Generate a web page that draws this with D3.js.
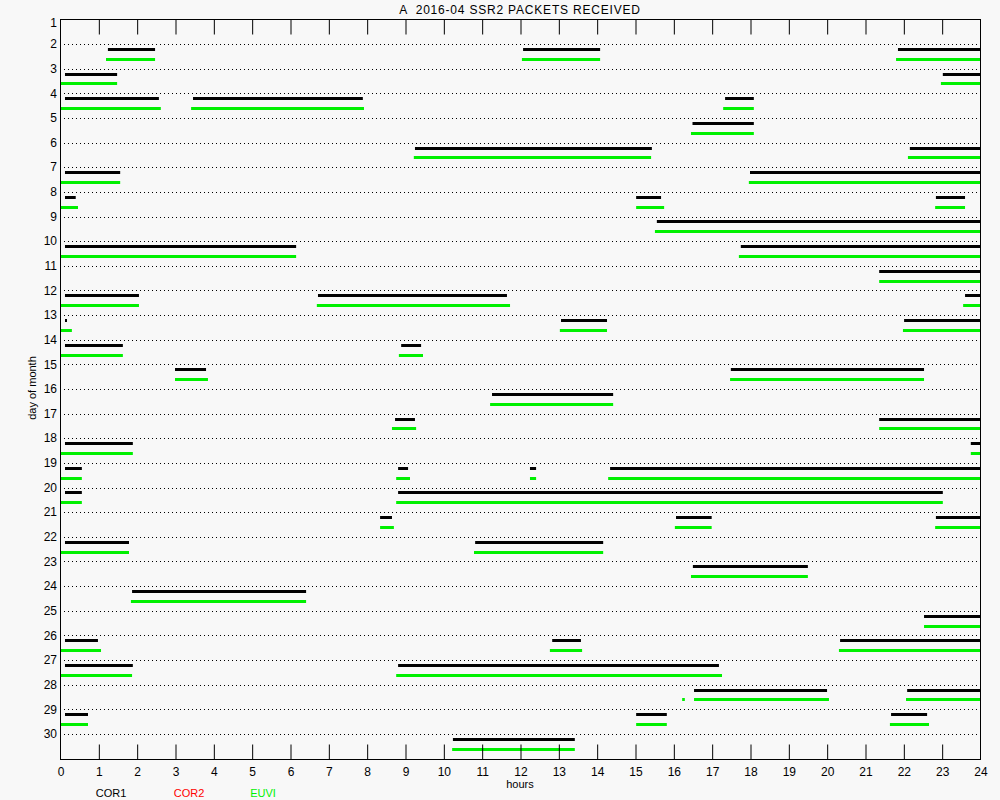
<!DOCTYPE html>
<html>
<head>
<meta charset="utf-8">
<script src="https://cdn.jsdelivr.net/npm/d3@7"></script>
<style>
  html, body { margin: 0; padding: 0; background: #f8f8f8; }
  svg { display: block; }
  text { font-family: "Liberation Sans", Arial, sans-serif; }
</style>
</head>
<body>
<svg id="chart" width="1000" height="800"></svg>
<script>
// ---- data ----
const title = "A  2016-04 SSR2 PACKETS RECEIVED";
const days = d3.range(1, 31);
const hourTicks = d3.range(0, 25);
const legendLabels = ["COR1", "COR2", "EUVI"];
const legendColors = ["#000000", "#ff0000", "#00f000"];

// [day, startHour, endHour]
const cor1Segs = [
  [2,1.25,2.48],[2,12.08,14.09],[2,21.86,24],
  [3,0.13,1.49],[3,23.03,24],
  [4,0.13,2.58],[4,3.47,7.9],[4,17.35,18.1],
  [5,16.5,18.1],
  [6,9.26,15.44],[6,22.17,24],
  [7,0.13,1.57],[7,18.0,24],
  [8,0.13,0.41],[8,15.03,15.68],[8,22.85,23.61],
  [9,15.57,24],
  [10,0.13,6.16],[10,17.76,24],
  [11,21.37,24],
  [12,0.13,2.06],[12,6.73,11.66],[12,23.61,24],
  [13,0.13,0.18],[13,13.07,14.27],[13,22.02,24],
  [14,0.13,1.64],[14,8.9,9.42],
  [15,3.0,3.81],[15,17.5,22.54],
  [16,11.27,14.43],
  [17,8.74,9.26],[17,21.37,24],
  [18,0.13,1.9],[18,23.76,24],
  [19,0.13,0.57],[19,8.82,9.08],[19,12.26,12.42],[19,14.35,24],
  [20,0.13,0.57],[20,8.82,23.03],
  [21,8.35,8.66],[21,16.07,17.0],[21,22.85,24],
  [22,0.13,1.8],[22,10.83,14.17],
  [23,16.51,19.51],
  [24,1.88,6.42],
  [25,22.54,24],
  [26,0.13,0.99],[26,12.84,13.59],[26,20.35,24],
  [27,0.13,1.9],[27,8.82,17.19],
  [28,16.54,20.01],[28,22.1,24],
  [29,0.13,0.73],[29,15.03,15.83],[29,21.68,22.62],
  [30,10.25,13.43]
];
const cor2Segs = [];
const euviSegs = [
  [2,1.2,2.48],[2,12.05,14.09],[2,21.81,24],
  [3,0,1.49],[3,22.98,24],
  [4,0,2.63],[4,3.42,7.93],[4,17.3,18.1],
  [5,16.46,18.1],
  [6,9.23,15.42],[6,22.12,24],
  [7,0,1.57],[7,17.97,24],
  [8,0,0.47],[8,15.03,15.76],[8,22.83,23.61],
  [9,15.52,24],
  [10,0,6.16],[10,17.71,24],
  [11,21.37,24],
  [12,0,2.06],[12,6.7,11.74],[12,23.56,24],
  [13,0,0.31],[13,13.04,14.27],[13,21.99,24],
  [14,0,1.64],[14,8.84,9.47],
  [15,3.0,3.86],[15,17.48,22.54],
  [16,11.22,14.43],
  [17,8.66,9.29],[17,21.37,24],
  [18,0,1.9],[18,23.76,24],
  [19,0,0.57],[19,8.77,9.13],[19,12.26,12.42],[19,14.3,24],
  [20,0,0.57],[20,8.77,23.03],
  [21,8.35,8.71],[21,16.04,17.0],[21,22.83,24],
  [22,0,1.8],[22,10.8,14.17],
  [23,16.46,19.51],
  [24,1.85,6.42],
  [25,22.54,24],
  [26,0,1.07],[26,12.78,13.62],[26,20.32,24],
  [27,0,1.88],[27,8.77,17.27],
  [28,16.23,16.3],[28,16.54,20.06],[28,22.07,24],
  [29,0,0.73],[29,15.03,15.83],[29,21.65,22.67],
  [30,10.23,13.43]
];

// ---- layout ----
const svg = d3.select("#chart");
const L = 60, R = 980, T = 19.4, B = 758.6;
const x = d3.scaleLinear().domain([0, 24]).range([L, R]);
const y = d3.scaleLinear().domain([1, 31]).range([T, B]);

svg.append("rect").attr("width", 1000).attr("height", 800).attr("fill", "#f8f8f8");

// dotted day lines
svg.append("g").selectAll("line").data(days.filter(d => d > 1)).join("line")
  .attr("x1", L + 4).attr("x2", R - 1)
  .attr("y1", d => Math.round(y(d)) + 0.5).attr("y2", d => Math.round(y(d)) + 0.5)
  .attr("stroke", "#000").attr("stroke-width", 1)
  .attr("stroke-dasharray", "1,3");

// segments
function drawSegs(data, color, off) {
  svg.append("g").selectAll("line").data(data).join("line")
    .attr("x1", d => x(d[1])).attr("x2", d => Math.max(x(d[2]), x(d[1]) + 2))
    .attr("y1", d => Math.round(y(d[0] + off)) + 0.5)
    .attr("y2", d => Math.round(y(d[0] + off)) + 0.5)
    .attr("stroke", color).attr("stroke-width", 3);
}
drawSegs(euviSegs, legendColors[2], 0.6);
drawSegs(cor2Segs, legendColors[1], 0.4);
drawSegs(cor1Segs, legendColors[0], 0.2);

// frame
svg.append("rect").attr("x", L + 0.5).attr("y", Math.round(T) + 0.5)
  .attr("width", R - L).attr("height", Math.round(B) - Math.round(T))
  .attr("fill", "none").attr("stroke", "#000").attr("stroke-width", 1);

// bottom axis
const xb = svg.append("g").attr("transform", `translate(0.5,${Math.round(B) + 0.5})`)
  .call(d3.axisBottom(x).tickValues(hourTicks).tickSize(-15).tickPadding(8).tickFormat(d3.format("d")));
xb.select(".domain").remove();
xb.selectAll(".tick line").filter(d => d === 0 || d === 24).remove();
xb.selectAll("text").attr("font-size", 12).attr("fill", "#000")
  .style("font-family", "'Liberation Sans', Arial, sans-serif");

// top axis ticks
const xt = svg.append("g").attr("transform", `translate(0.5,${Math.round(T) + 0.5})`)
  .call(d3.axisTop(x).tickValues(hourTicks.filter(d => d > 0 && d < 24)).tickSize(-15).tickFormat(""));
xt.select(".domain").remove();

// y labels
svg.append("g").selectAll("text").data(days).join("text")
  .attr("x", 57).attr("y", d => Math.max(y(d), 23))
  .attr("dy", "0.35em").attr("text-anchor", "end")
  .attr("font-size", 12).attr("fill", "#000").text(d => d);

// title
svg.append("text").attr("x", 520).attr("y", 14).attr("text-anchor", "middle")
  .attr("font-size", 12).attr("letter-spacing", "0.8px")
  .style("white-space", "pre").attr("xml:space", "preserve")
  .attr("fill", "#000").text(title);

// axis titles
svg.append("text").attr("x", 520).attr("y", 788).attr("text-anchor", "middle")
  .attr("font-size", 11).attr("fill", "#000").text("hours");
svg.append("text").attr("transform", "translate(36,388) rotate(-90)").attr("text-anchor", "middle")
  .attr("font-size", 11).attr("fill", "#000").text("day of month");

// legend
const legX = [111, 189, 263];
svg.append("g").selectAll("text").data(legendLabels).join("text")
  .attr("x", (d, i) => legX[i]).attr("y", 797).attr("text-anchor", "middle")
  .attr("font-size", 11).attr("fill", (d, i) => legendColors[i]).text(d => d);
</script>
</body>
</html>
